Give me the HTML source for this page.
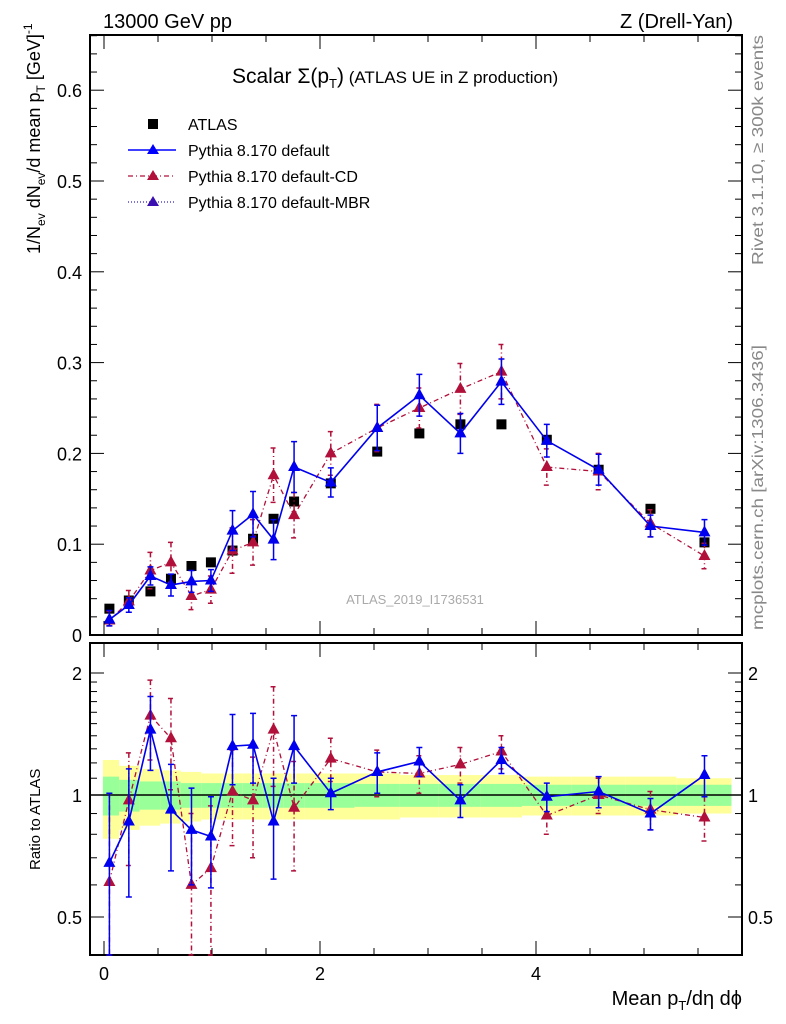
<!DOCTYPE html>
<html><head><meta charset="utf-8"><style>
body{margin:0;background:#fff}
svg{display:block;font-family:"Liberation Sans","DejaVu Sans",sans-serif}
</style></head><body>
<svg id="chart" width="786" height="1024" viewBox="0 0 786 1024">
<text x="103" y="28" font-size="20">13000 GeV pp</text>
<text x="733" y="28" font-size="20" text-anchor="end">Z (Drell-Yan)</text>
<text transform="translate(763,265) rotate(-90)" font-size="16" fill="#888" textLength="230" lengthAdjust="spacingAndGlyphs">Rivet 3.1.10, ≥ 300k events</text>
<text transform="translate(763,630) rotate(-90)" font-size="16" fill="#888" textLength="285" lengthAdjust="spacingAndGlyphs">mcplots.cern.ch [arXiv:1306.3436]</text>
<text x="415" y="604" font-size="13" fill="#aaa" text-anchor="middle">ATLAS_2019_I1736531</text>
<text x="232" y="83" font-size="21">Scalar Σ(p<tspan font-size="13" dy="5">T</tspan><tspan dy="-5">)</tspan><tspan font-size="17"> (ATLAS UE in Z production)</tspan></text>
<text transform="translate(40,254) rotate(-90)" font-size="18">1/N<tspan font-size="12" dy="5">ev</tspan><tspan dy="-5"> dN</tspan><tspan font-size="12" dy="5">ev</tspan><tspan dy="-5">/d mean p</tspan><tspan font-size="12" dy="5">T</tspan><tspan dy="-5"> [GeV]</tspan><tspan font-size="12" dy="-8">-1</tspan></text>
<text transform="translate(40,870) rotate(-90)" font-size="15">Ratio to ATLAS</text>
<text x="742" y="1005" font-size="20" text-anchor="end">Mean p<tspan font-size="13" dy="5">T</tspan><tspan dy="-5">/dη dϕ</tspan></text>
<g id="legend">
<rect x="148" y="119" width="10" height="10" fill="#000"/>
<text x="188" y="130" font-size="16">ATLAS</text>
<line x1="128" y1="150" x2="176" y2="150" stroke="#00f" stroke-width="1.5"/>
<path d="M153,144 L159,154 L147,154Z" fill="#00f"/>
<text x="188" y="156" font-size="16">Pythia 8.170 default</text>
<line x1="128" y1="176" x2="176" y2="176" stroke="#b0103a" stroke-width="1.2" stroke-dasharray="5,3,1,3"/>
<path d="M153,170 L159,180 L147,180Z" fill="#b0103a"/>
<text x="188" y="182" font-size="16">Pythia 8.170 default-CD</text>
<line x1="128" y1="202" x2="176" y2="202" stroke="#3020c0" stroke-width="1.2" stroke-dasharray="1,2"/>
<path d="M153,196 L159,206 L147,206Z" fill="#3a10b0"/>
<text x="188" y="208" font-size="16">Pythia 8.170 default-MBR</text>
</g>
<g id="main"></g>
<g id="ratio"></g>
</svg>
<script>
const xs=[0.05,0.23,0.43,0.62,0.81,0.99,1.19,1.38,1.57,1.76,2.1,2.53,2.92,3.3,3.68,4.1,4.58,5.06,5.56];
const atlas=[0.029,0.038,0.048,0.062,0.076,0.080,0.093,0.106,0.128,0.147,0.167,0.202,0.222,0.232,0.232,0.215,0.182,0.139,0.102];
const pyDef=[0.017,0.033,0.065,0.055,0.059,0.060,0.115,0.133,0.105,0.185,0.168,0.228,0.264,0.222,0.279,0.214,0.182,0.120,0.113];
const pyDefErr=[0.010,0.008,0.010,0.012,0.012,0.012,0.022,0.025,0.022,0.028,0.016,0.025,0.023,0.022,0.025,0.018,0.017,0.012,0.014];
const pyCD=[0.016,0.037,0.071,0.080,0.043,0.050,0.093,0.102,0.176,0.132,0.200,0.228,0.250,0.271,0.290,0.185,0.180,0.123,0.087];
const pyCDErr=[0.010,0.012,0.020,0.022,0.015,0.015,0.025,0.025,0.030,0.025,0.024,0.026,0.022,0.028,0.030,0.020,0.020,0.015,0.014];
const ratDef=[0.68,0.86,1.45,0.92,0.82,0.79,1.32,1.33,0.86,1.32,1.01,1.14,1.21,0.97,1.22,0.99,1.02,0.90,1.12];
const ratDefErr=[0.33,0.30,0.30,0.27,0.22,0.20,0.26,0.26,0.24,0.25,0.09,0.13,0.10,0.09,0.09,0.08,0.09,0.08,0.13];
const ratCD=[0.61,0.97,1.57,1.38,0.60,0.66,1.02,0.97,1.45,0.93,1.23,1.14,1.13,1.19,1.28,0.89,1.00,0.92,0.88];
const ratCDErr=[0.40,0.30,0.35,0.35,0.30,0.28,0.27,0.27,0.40,0.28,0.15,0.15,0.12,0.12,0.12,0.09,0.10,0.10,0.11];
const binEdges=[-0.01,0.14,0.33,0.52,0.71,0.90,1.09,1.28,1.47,1.66,1.86,2.32,2.74,3.10,3.49,3.87,4.33,4.83,5.30,5.81];
const bandGreen=[0.11,0.09,0.08,0.08,0.07,0.07,0.07,0.07,0.07,0.07,0.07,0.065,0.065,0.065,0.065,0.06,0.06,0.06,0.06];
const bandYellow=[0.22,0.18,0.16,0.15,0.14,0.13,0.13,0.13,0.13,0.13,0.13,0.13,0.12,0.12,0.12,0.11,0.11,0.11,0.1];
const yTicks=[0,0.1,0.2,0.3,0.4,0.5,0.6];
const xTicks=[0,2,4];
const rTicks=[0.5,1,2];

const NS="http://www.w3.org/2000/svg";
const L=90,R=742,T=35,B=635,RT=643,RB=955;
const X=v=>104+v*108;
const Y=v=>635-v*908;
const RY=v=>795-Math.log2(v)*122;
function mk(p,tag,at){const e=document.createElementNS(NS,tag);for(const k in at)e.setAttribute(k,at[k]);p.appendChild(e);return e;}
const main=document.getElementById('main'),ratio=document.getElementById('ratio');

for(let i=0;i<xs.length;i++){
 const x1=X(binEdges[i]),x2=X(binEdges[i+1]);
 const y=mk(ratio,'rect',{x:x1,y:RY(1+bandYellow[i]),width:x2-x1,height:RY(1-bandYellow[i])-RY(1+bandYellow[i]),fill:'#ffff99'});
 
 
 const g=mk(ratio,'rect',{x:x1,y:RY(1+bandGreen[i]),width:x2-x1,height:RY(1-bandGreen[i])-RY(1+bandGreen[i]),fill:'#99ff99'});
 
 
}
const one=mk(ratio,'line',{x1:L,x2:R,y1:RY(1),y2:RY(1),stroke:'#000','stroke-width':1.5});



function series(g,vals,errs,yf,color,dash,name,clipTop,clipBot){
 const pts=vals.map((v,i)=>X(xs[i])+','+yf(v)).join(' ');
 const pl=mk(g,'polyline',{points:pts,fill:'none',stroke:color,'stroke-width':dash?1.3:1.6,'stroke-dasharray':dash||'none'});
 
 
 vals.forEach((v,i)=>{
  const x=X(xs[i]);
  let y1=Math.max(clipTop,yf(v+errs[i])),y2=Math.min(clipBot,yf(Math.max(v-errs[i],0.01)));
  const eb=mk(g,'path',{d:`M${x},${y1}V${y2}M${x-3},${y1}H${x+3}M${x-3},${y2}H${x+3}`,stroke:color,'stroke-width':1.5,fill:'none','stroke-dasharray':dash||'none'});
  
  
  const y=yf(v);
  const m=mk(g,'path',{d:`M${x},${y-7}L${x+6},${y+4}L${x-6},${y+4}Z`,fill:color});
  
  
 });
}
atlas.forEach((v,i)=>{
 const r=mk(main,'rect',{x:X(xs[i])-5,y:Y(v)-5,width:10,height:10,fill:'#000'});
 
 
});
series(main,pyCD,pyCDErr,Y,'#b0103a','5,3,1,3','pythia-cd',T,B);
series(main,pyDef,pyDefErr,Y,'#0000ee',null,'pythia-default',T,B);
series(ratio,ratCD,ratCDErr,RY,'#b0103a','5,3,1,3','ratio-cd',RT,RB);
series(ratio,ratDef,ratDefErr,RY,'#0000ee',null,'ratio-default',RT,RB);

for(const [t,b,n] of [[T,B,'main-frame'],[RT,RB,'ratio-frame']]){
 const f=mk(main,'rect',{x:L,y:t,width:R-L,height:b-t,fill:'none',stroke:'#000','stroke-width':2});
 
 
}
const ax=mk(main,'g',{});


for(let k=0;k<=33;k++){const v=k*0.02,y=Y(v);if(y<T)break;const len=(k%5==0)?14:7;
 mk(ax,'line',{x1:L,x2:L+len,y1:y,y2:y,stroke:'#000','stroke-width':1});
 mk(ax,'line',{x1:R,x2:R-len,y1:y,y2:y,stroke:'#000','stroke-width':1});}
yTicks.forEach(v=>{const t=mk(ax,'text',{x:L-8,y:Y(v)+7,'font-size':18,'text-anchor':'end'});t.textContent=v===0?'0':v.toFixed(1);
 
 });
for(let k=0;k<=11;k++){const v=k*0.5,x=X(v);const len=(k%4==0)?14:7;
 for(const [t,b] of [[T,B],[RT,RB]]){
 mk(ax,'line',{x1:x,x2:x,y1:b,y2:b-len,stroke:'#000','stroke-width':1});
 mk(ax,'line',{x1:x,x2:x,y1:t,y2:t+len,stroke:'#000','stroke-width':1});}}
xTicks.forEach(v=>{const t=mk(ax,'text',{x:X(v),y:980,'font-size':18,'text-anchor':'middle'});t.textContent=v;
 
 });
[0.5,0.6,0.7,0.8,0.9,1,1.1,1.2,1.3,1.4,1.5,1.6,1.7,1.8,1.9,2].forEach(v=>{const y=RY(v);const len=rTicks.includes(v)?14:7;
 mk(ax,'line',{x1:L,x2:L+len,y1:y,y2:y,stroke:'#000','stroke-width':1});
 mk(ax,'line',{x1:R,x2:R-len,y1:y,y2:y,stroke:'#000','stroke-width':1});});
rTicks.forEach(v=>{for(const [x,a] of [[L-8,'end'],[R+6,'start']]){const t=mk(ax,'text',{x:x,y:RY(v)+7,'font-size':18,'text-anchor':a});t.textContent=v;
 
 }});
</script>
</body></html>
